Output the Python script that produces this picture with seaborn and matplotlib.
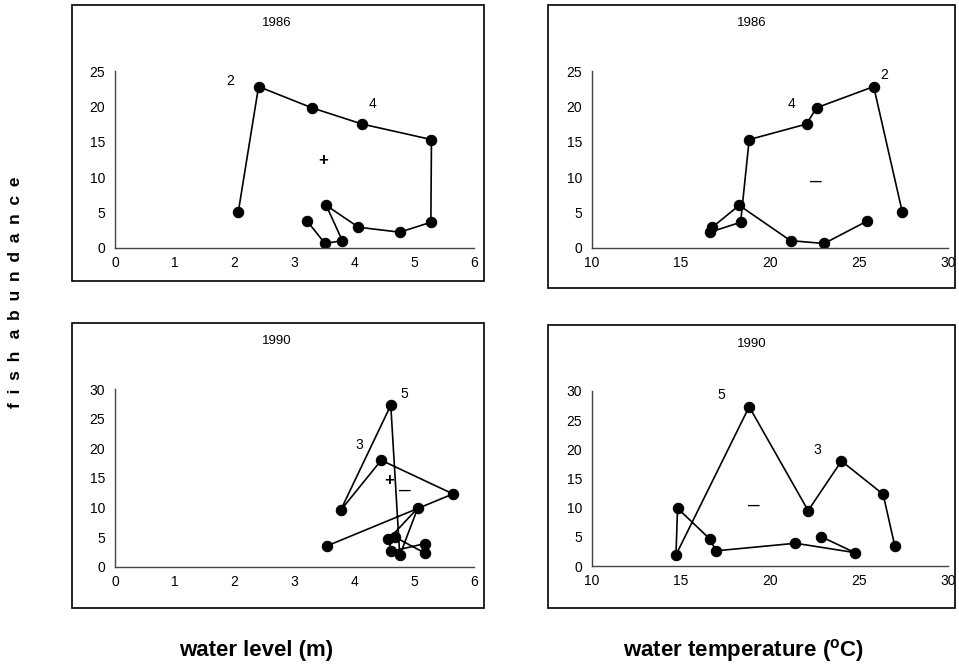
import numpy as np
import pandas as pd
import matplotlib
matplotlib.use("Agg")
import matplotlib.pyplot as plt
from matplotlib.patches import Rectangle
import seaborn as sns

# monthly values, Jan..Dec
level_1986 = [2.06, 2.40, 3.29, 4.13, 5.29, 5.28, 4.76, 4.07, 3.53, 3.80, 3.51, 3.21]
temp_1986 = [27.44, 25.83, 22.62, 22.06, 18.84, 18.36, 16.64, 16.77, 18.28, 21.16, 23.05, 25.48]
fish_1986 = [5.0, 22.8, 19.8, 17.5, 15.3, 3.6, 2.2, 2.9, 6.0, 1.0, 0.6, 3.8]

level_1990 = [3.54, 5.65, 4.45, 3.77, 4.61, 4.76, 5.06, 4.57, 4.62, 5.18, 5.18, 4.68]
temp_1990 = [27.01, 26.36, 24.02, 22.15, 18.84, 14.73, 14.82, 16.64, 16.97, 21.44, 24.77, 22.90]
fish_1990 = [3.5, 12.3, 18.0, 9.5, 27.3, 1.9, 9.9, 4.6, 2.6, 3.9, 2.3, 5.0]

sns.set_style("white")
plt.rcParams["font.family"] = ["Liberation Sans", "DejaVu Sans"]
plt.rcParams["mathtext.fontset"] = "custom"
plt.rcParams["mathtext.rm"] = "Liberation Sans"
plt.rcParams["mathtext.bf"] = "Liberation Sans:bold"
plt.rcParams["text.color"] = "black"
plt.rcParams["xtick.color"] = "black"
plt.rcParams["ytick.color"] = "black"

fig = plt.figure(figsize=(9.59, 6.67), dpi=100)

# outer chart-area boxes
for (x0, y0, w, h) in [(0.0751, 0.5787, 0.4296, 0.4138), (0.5714, 0.5682, 0.4244, 0.4243),
                       (0.0751, 0.0885, 0.4296, 0.4273), (0.5714, 0.0885, 0.4244, 0.4243)]:
    fig.patches.append(Rectangle((x0, y0), w, h, transform=fig.transFigure,
                                 fill=False, edgecolor="black", linewidth=1.2))

ax1 = fig.add_axes([0.1199, 0.6286, 0.3743, 0.2649])
ax2 = fig.add_axes([0.6170, 0.6286, 0.3715, 0.2649])
ax3 = fig.add_axes([0.1199, 0.1504, 0.3743, 0.2660])
ax4 = fig.add_axes([0.6170, 0.1514, 0.3715, 0.2624])

panels = [
    (ax1, level_1986, fish_1986, (0, 6), 1, (0, 25), "1986"),
    (ax2, temp_1986, fish_1986, (10, 30), 5, (0, 25), "1986"),
    (ax3, level_1990, fish_1990, (0, 6), 1, (0, 30), "1990"),
    (ax4, temp_1990, fish_1990, (10, 30), 5, (0, 30), "1990"),
]

for ax, xs, ys, xlim, xstep, ylim, year in panels:
    df = pd.DataFrame({"x": xs, "y": ys})
    sns.lineplot(data=df, x="x", y="y", sort=False, estimator=None, color="black",
                 linewidth=1.2, marker="o", markersize=7.5, markeredgecolor="black", ax=ax)
    ax.set_xlim(*xlim)
    ax.set_ylim(*ylim)
    ax.set_xticks(np.arange(xlim[0], xlim[1] + 0.1, xstep))
    ax.set_yticks(np.arange(ylim[0], ylim[1] + 0.1, 5))
    ax.set_xlabel("")
    ax.set_ylabel("")
    sns.despine(ax=ax)
    for s in ["left", "bottom"]:
        ax.spines[s].set_color("#444444")
        ax.spines[s].set_linewidth(1.0)
    ax.tick_params(axis="x", direction="inout", length=4, width=0.8, labelsize=10, pad=4)
    ax.tick_params(axis="y", direction="out", length=3, width=0.8, labelsize=10, pad=4)
    ax.set_facecolor("none")
    for sp in ax.spines.values():
        sp.set_clip_on(False)
    ax.text(0.45, 1.27, year, transform=ax.transAxes, ha="center", va="center", fontsize=9.5)

# month / sign annotations
ax1.text(1.92, 23.6, "2", ha="center", va="center", fontsize=10)
ax1.text(4.31, 20.4, "4", ha="center", va="center", fontsize=10)
ax1.text(3.48, 12.4, "+", ha="center", va="center", fontsize=12, fontweight="bold")
ax2.text(26.4, 24.5, "2", ha="center", va="center", fontsize=10)
ax2.text(21.2, 20.4, "4", ha="center", va="center", fontsize=10)
ax2.text(22.6, 9.4, "\u2013", ha="center", va="center", fontsize=15)
ax3.text(4.09, 20.5, "3", ha="center", va="center", fontsize=10)
ax3.text(4.84, 29.2, "5", ha="center", va="center", fontsize=10)
ax3.text(4.58, 14.5, "+", ha="center", va="center", fontsize=12, fontweight="bold")
ax3.text(4.84, 12.9, "\u2013", ha="center", va="center", fontsize=15)
ax4.text(17.3, 29.3, "5", ha="center", va="center", fontsize=10)
ax4.text(22.66, 19.9, "3", ha="center", va="center", fontsize=10)
ax4.text(19.1, 10.4, "\u2013", ha="center", va="center", fontsize=15)

sp = "\u2002"
ylab = sp.join("fish") + "\u2002\u2009" + sp.join("abundance")
fig.text(0.016, 0.562, ylab, rotation=90, ha="center", va="center",
         fontsize=12.5, fontweight="bold")
fig.text(0.267, 0.024, "water level (m)", ha="center", va="center", fontsize=16, fontweight="bold")
fig.text(0.775, 0.024, r"water temperature ($\mathbf{^{o}}$C)", ha="center", va="center",
         fontsize=16, fontweight="bold")

fig.savefig("out.png", dpi=100)
